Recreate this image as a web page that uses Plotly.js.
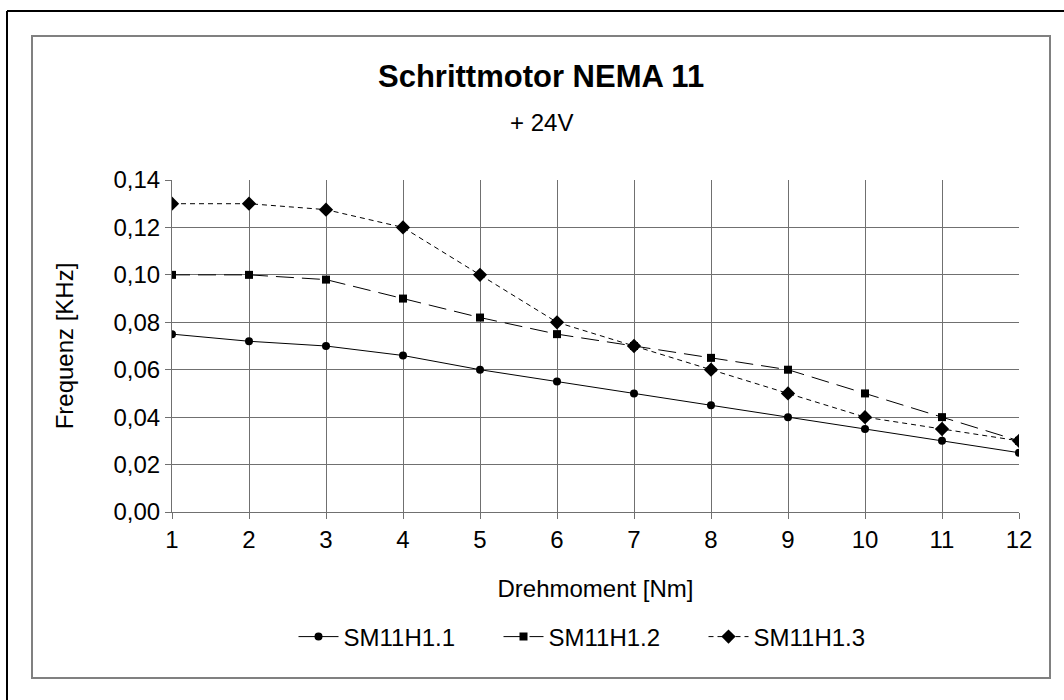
<!DOCTYPE html>
<html>
<head>
<meta charset="utf-8">
<script src="https://cdn.plot.ly/plotly-3.0.1.min.js"></script>
<style>html,body{margin:0;padding:0;background:#fff;}</style>
</head>
<body>
<div id="chart" style="width:1064px;height:700px;"></div>
<script>
const drehmoment = [1, 2, 3, 4, 5, 6, 7, 8, 9, 10, 11, 12];
const sm11h1_1 = [0.075, 0.072, 0.070, 0.066, 0.060, 0.055, 0.050, 0.045, 0.040, 0.035, 0.030, 0.025];
const sm11h1_2 = [0.100, 0.100, 0.098, 0.090, 0.082, 0.075, 0.070, 0.065, 0.060, 0.050, 0.040, 0.030];
const sm11h1_3 = [0.130, 0.130, 0.1275, 0.120, 0.100, 0.080, 0.070, 0.060, 0.050, 0.040, 0.035, 0.030];
const seriesNames = ["SM11H1.1", "SM11H1.2", "SM11H1.3"];
const yTicks = [0, 0.02, 0.04, 0.06, 0.08, 0.10, 0.12, 0.14];

const font = "Liberation Sans, Arial, sans-serif";
const traces = [
  {x: drehmoment, y: sm11h1_1, name: seriesNames[0], mode: "lines+markers",
   line: {color: "#000", width: 1, dash: "solid"},
   marker: {symbol: "circle", size: 8, color: "#000"}},
  {x: drehmoment, y: sm11h1_2, name: seriesNames[1], mode: "lines+markers",
   line: {color: "#000", width: 1, dash: "18px,8px"},
   marker: {symbol: "square", size: 8, color: "#000"}},
  {x: drehmoment, y: sm11h1_3, name: seriesNames[2], mode: "lines+markers",
   line: {color: "#000", width: 1, dash: "5px,4px"},
   marker: {symbol: "diamond", size: 11, color: "#000"}}
];

// pixel -> paper helpers (plot area 172..1019 x, 180..512 y)
const L = 172, R = 1019, T = 180, B = 512;
const px = v => (v - L) / (R - L);
const py = v => (B - v) / (B - T);

const layout = {
  width: 1064, height: 700,
  margin: {l: L, r: 1064 - R, t: T, b: 700 - B, pad: 0},
  paper_bgcolor: "#fff", plot_bgcolor: "#fff",
  separators: ",.",
  font: {family: font, size: 24, color: "#000"},
  showlegend: true,
  legend: {orientation: "h", x: px(601), xanchor: "center", y: py(637), yanchor: "middle",
           font: {family: font, size: 24, color: "#000"}, itemwidth: 40, tracegroupgap: 0,
           entrywidth: 150, entrywidthmode: "pixels"},
  xaxis: {range: [1, 12], tickvals: drehmoment, showgrid: true, gridcolor: "#707070", gridwidth: 1,
          showline: true, linecolor: "#707070", linewidth: 1, ticks: "outside", ticklen: 6,
          tickcolor: "#707070", zeroline: false, fixedrange: true,
          tickfont: {family: font, size: 24, color: "#000"},
          title: {text: "Drehmoment [Nm]", font: {family: font, size: 24, color: "#000"}, standoff: 28}},
  yaxis: {range: [0, 0.14], tickvals: yTicks, tickformat: ".2f", showgrid: true, gridcolor: "#707070",
          gridwidth: 1, showline: true, linecolor: "#707070", linewidth: 1, ticks: "outside",
          ticklen: 6, tickcolor: "#707070", zeroline: false, fixedrange: true,
          tickfont: {family: font, size: 24, color: "#000"},
          title: {text: "Frequenz [KHz]", font: {family: font, size: 24, color: "#000"}, standoff: 33}},
  annotations: [
    {text: "<b>Schrittmotor NEMA 11</b>", xref: "paper", yref: "paper", x: px(541), y: py(76),
     xanchor: "center", yanchor: "middle", showarrow: false, font: {family: font, size: 31, color: "#000"}},
    {text: "+ 24V", xref: "paper", yref: "paper", x: px(541), y: py(122),
     xanchor: "center", yanchor: "middle", showarrow: false, font: {family: font, size: 24, color: "#000"}}
  ],
  shapes: [
    {type: "rect", xref: "paper", yref: "paper", x0: px(32), x1: px(1050), y0: py(678), y1: py(36),
     line: {color: "#808080", width: 2}, layer: "below"},
    {type: "line", xref: "paper", yref: "paper", x0: px(7), x1: px(1064), y0: py(11), y1: py(11),
     line: {color: "#000", width: 2}},
    {type: "line", xref: "paper", yref: "paper", x0: px(7), x1: px(7), y0: py(11), y1: py(700),
     line: {color: "#000", width: 2}}
  ]
};

Plotly.newPlot("chart", traces, layout, {displayModeBar: false, staticPlot: true});
</script>
</body>
</html>
